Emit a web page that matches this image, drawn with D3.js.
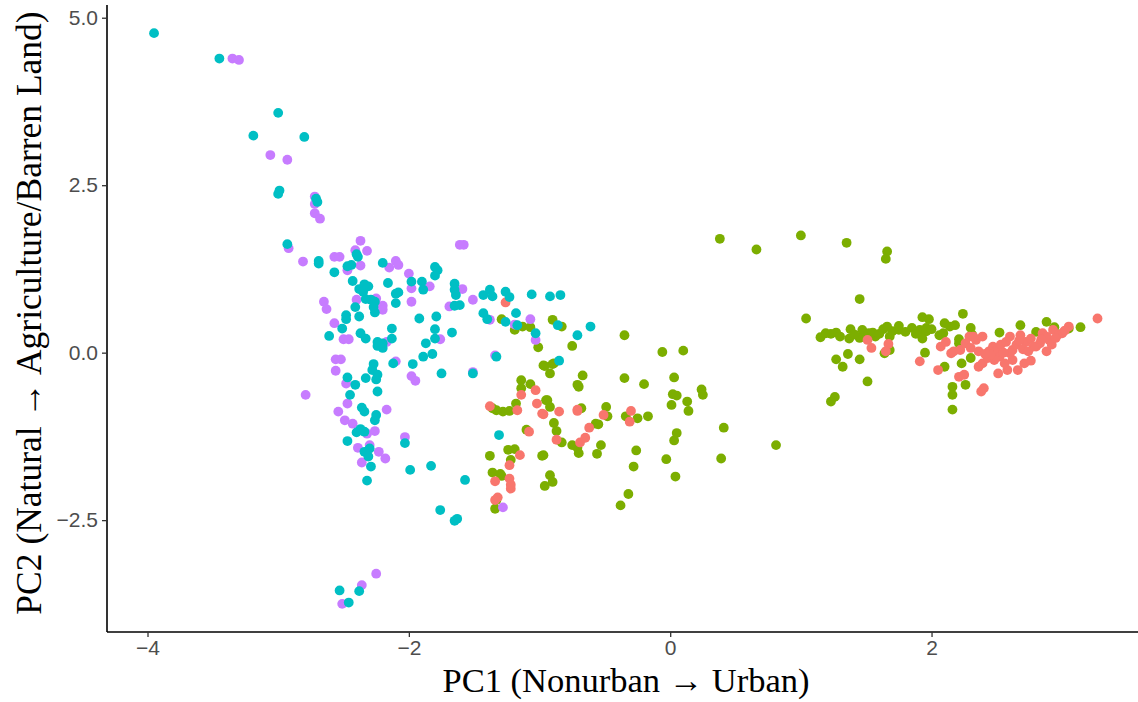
<!DOCTYPE html>
<html>
<head>
<meta charset="utf-8">
<script src="https://cdn.jsdelivr.net/npm/d3@7"></script>
<style>
  body { margin: 0; background: #fff; }
  svg { display: block; }
</style>
</head>
<body>
<svg id="chart" width="1138" height="702"></svg>
<script>
// PC scores per group, [PC1, PC2]
const groupA = [ // red
  [-1.26,0.75],[-1.14,-0.63],[-1.03,-0.56],[-1.02,-0.76],[-0.98,-0.91],[-1.38,-0.80],[-1.17,-0.86],
  [-0.85,-0.88],[-0.71,-0.85],[-0.71,-0.87],[-0.97,-0.92],[-1.08,-1.18],[-0.87,-1.30],[-0.69,-1.34],
  [-0.65,-1.27],[-0.62,-1.12],[-0.51,-0.93],[-0.30,-0.87],[-0.31,-1.03],[-1.23,-1.68],[-1.15,-1.53],
  [-1.34,-1.92],[-1.23,-1.88],[-1.22,-2.03],[-1.32,-2.16],[-1.34,-2.20],[-1.22,-1.97],
  [1.51,0.19],[1.54,0.07],[1.67,0.13],[1.65,0.02],[1.91,-0.13],[2.05,-0.26],[2.07,0.09],[2.11,0.16],
  [2.15,-0.01],[2.17,0.02],[2.22,0.04],[2.26,0.14],[2.29,0.24],[2.34,0.19],[2.39,0.24],[2.30,0.07],
  [2.21,-0.36],[2.25,-0.33],[2.36,-0.21],[2.39,-0.16],[2.43,-0.08],[2.38,-0.58],[2.40,-0.53],[2.47,0.09],
  [2.49,0.02],[2.52,-0.06],[2.51,-0.31],[2.58,-0.26],[2.66,-0.26],[2.71,-0.16],[2.76,-0.12],[2.53,0.12],
  [2.57,0.16],[2.60,0.24],[2.62,0.04],[2.65,0.12],[2.68,0.26],[2.72,0.16],[2.76,0.21],[2.80,0.09],
  [2.85,0.29],[2.88,0.02],[2.90,0.19],[2.93,0.34],[2.97,0.27],[3.00,0.29],[3.05,0.39],[2.88,0.24],
  [2.83,0.14],[2.78,0.09],[2.48,-0.11],[2.44,0.02],[2.62,-0.11],[2.60,-0.01],[2.32,0.24],[3.27,0.51],
  [2.70,0.05],[2.74,0.02],[2.55,0.00],[2.45,-0.03],[2.92,0.12],[2.95,0.22],[3.02,0.33],[2.84,0.20],
  [2.67,0.18],[2.36,0.02],[2.41,-0.02],[2.56,-0.16]
];
const groupB = [ // green
  [-1.29,0.50],[-1.19,0.34],[-1.13,0.39],[-1.07,0.38],[-1.01,0.08],[-0.90,0.49],[-0.83,0.39],[-0.75,0.10],
  [-0.97,-0.19],[-0.90,-0.17],[-0.92,-0.31],[-0.67,-0.34],[-0.70,-0.51],[-0.71,-0.48],[-1.14,-0.41],
  [-1.14,-0.53],[-1.07,-0.47],[-1.18,-0.76],[-0.94,-0.71],[-0.92,-0.81],[-1.36,-0.83],[-1.28,-0.88],
  [-1.23,-0.87],[-1.33,-0.86],[-0.68,-0.83],[-0.35,0.26],[-0.06,0.01],[0.10,0.03],[-0.96,-0.20],
  [-0.89,-0.16],[-0.35,-0.38],[-0.20,-0.47],[0.03,-0.37],[0.02,-0.62],[0.05,-0.64],[0.01,-0.78],
  [0.24,-0.55],[0.25,-0.63],[0.13,-0.73],[0.14,-0.87],[-0.49,-0.81],[-0.48,-0.95],[-0.55,-1.07],
  [-0.34,-0.95],[-0.25,-0.98],[-0.17,-0.95],[-0.89,-1.05],[-0.87,-1.17],[-0.83,-1.34],[-0.75,-1.38],
  [-0.70,-1.50],[-0.71,-1.42],[-0.56,-1.51],[-0.53,-1.38],[-0.57,-1.06],[-0.26,-1.46],[-0.28,-1.70],
  [0.05,-1.20],[0.03,-1.31],[-0.03,-1.59],[0.04,-1.85],[0.41,-1.12],[0.39,-1.58],[0.81,-1.38],
  [-0.32,-2.11],[-0.38,-2.28],[-0.97,-1.53],[-1.38,-1.54],[-1.24,-1.45],[-1.19,-1.44],[-1.22,-1.60],
  [-1.36,-1.79],[-1.30,-1.81],[-1.29,-1.84],[-0.92,-1.83],[-0.90,-1.93],[-0.96,-1.99],[-1.33,-2.20],
  [-1.34,-2.33],[-1.10,-1.15],[-0.98,-1.54],[-0.95,-0.71],
  [0.38,1.70],[0.66,1.54],[1.00,1.75],[1.35,1.64],[1.66,1.51],[1.65,1.40],[1.45,0.80],[1.04,0.51],
  [1.15,0.23],[1.23,0.28],[1.27,0.30],[1.38,0.35],[1.37,0.21],[1.27,-0.10],[1.32,-0.21],[1.36,-0.02],
  [1.45,-0.10],[1.51,-0.43],[1.23,-0.73],[1.26,-0.66],[1.47,0.34],[1.52,0.29],[1.63,0.35],[1.70,0.32],
  [1.68,0.24],[1.75,0.34],[1.80,0.31],[1.85,0.37],[1.91,0.34],[1.96,0.32],[1.57,0.24],[1.50,0.23],
  [1.45,0.22],[1.66,0.39],[1.75,0.40],[1.93,0.53],[1.98,0.50],[1.96,0.37],[2.00,0.35],[1.93,0.21],
  [1.95,0.00],[1.64,-0.01],[1.68,0.04],[2.10,0.44],[2.14,0.39],[2.18,0.41],[2.24,0.58],[2.09,0.29],
  [2.06,0.26],[2.30,0.37],[2.31,0.27],[2.21,0.20],[2.23,-0.16],[2.30,-0.08],[2.10,-0.21],[2.26,-0.48],
  [2.16,-0.51],[2.16,-0.63],[2.16,-0.85],[2.52,0.30],[2.68,0.41],[2.88,0.46],[2.94,0.38],[3.05,0.36],
  [3.14,0.38],[2.80,0.31],[2.21,0.14],[1.55,0.30],[1.60,0.28],[1.88,0.28],[1.41,0.27],[1.30,0.24],[1.19,0.29]
];
const groupC = [ // cyan
  [-3.95,4.77],[-3.45,4.39],[-3.00,3.58],[-3.19,3.24],[-2.80,3.22],[-2.99,2.42],[-3.00,2.37],[-2.71,2.30],
  [-2.70,2.25],[-2.93,1.62],[-2.69,1.37],[-2.69,1.33],[-2.40,1.47],[-2.39,1.43],[-2.57,1.20],[-2.47,1.29],
  [-2.44,1.31],[-2.20,1.34],[-1.80,1.28],[-1.78,1.23],[-1.80,1.15],[-1.98,1.06],[-1.90,1.06],[-1.89,0.94],
  [-2.43,1.07],[-2.34,1.02],[-2.31,0.99],[-2.38,0.95],[-2.35,0.91],[-2.16,1.04],[-2.10,0.88],[-2.08,0.90],
  [-2.10,0.74],[-2.33,0.80],[-2.29,0.79],[-2.26,0.76],[-2.27,0.68],[-2.26,0.60],[-2.41,0.68],[-2.48,0.56],
  [-2.48,0.50],[-2.38,0.54],[-2.51,0.36],[-2.61,0.25],[-2.37,0.29],[-2.33,0.21],[-2.13,0.36],[-2.13,0.21],
  [-2.24,0.16],[-2.20,0.14],[-2.24,0.10],[-2.20,0.07],[-1.92,0.51],[-1.79,0.54],[-1.80,0.35],[-1.80,0.21],
  [-1.67,0.30],[-1.87,0.14],[-1.89,-0.06],[-1.82,-0.02],[-1.97,-0.17],[-2.12,-0.16],[-2.27,-0.17],
  [-2.28,-0.26],[-2.24,-0.33],[-2.33,-0.38],[-2.25,-0.40],[-2.47,-0.37],[-2.41,-0.48],[-2.45,-0.63],
  [-1.75,-0.31],[-1.51,-0.31],[-2.24,-0.58],[-2.36,-0.82],[-2.34,-0.88],[-2.25,-0.93],[-2.26,-1.01],
  [-2.40,-1.19],[-2.37,-1.14],[-2.34,-1.18],[-2.47,-1.32],[-2.03,-1.35],[-2.34,-1.48],[-2.30,-1.43],
  [-2.31,-1.55],[-2.29,-1.70],[-2.32,-1.91],[-1.99,-1.75],[-1.83,-1.69],[-1.57,-1.90],[-1.31,-1.23],
  [-1.76,-2.35],[-1.65,-2.51],[-1.63,-2.48],[-2.38,-3.56],[-2.53,-3.55],[-2.46,-3.73],
  [-1.65,1.03],[-1.65,0.94],[-1.64,0.86],[-1.65,0.70],[-1.61,0.71],[-1.43,0.86],[-1.38,0.94],[-1.36,0.84],
  [-1.26,0.91],[-1.23,0.83],[-1.06,0.87],[-0.92,0.84],[-0.84,0.86],[-1.43,0.59],[-1.40,0.50],[-1.26,0.46],
  [-1.18,0.59],[-1.17,0.41],[-1.03,0.29],[-0.86,0.41],[-0.71,0.26],[-0.61,0.39],[-1.33,-0.06],[-0.85,-0.12]
];
const groupD = [ // purple
  [-3.35,4.39],[-3.30,4.37],[-3.06,2.95],[-2.93,2.88],[-2.72,2.33],[-2.72,2.22],[-2.72,2.08],[-2.68,2.00],
  [-2.92,1.56],[-2.37,1.67],[-2.41,1.53],[-2.32,1.52],[-1.61,1.61],[-1.58,1.61],[-2.81,1.36],[-2.57,1.43],
  [-2.53,1.43],[-2.47,1.23],[-2.37,1.30],[-2.10,1.37],[-2.08,1.31],[-2.15,1.27],[-2.00,1.18],[-1.98,0.96],
  [-1.84,0.99],[-2.25,0.81],[-2.20,0.70],[-2.20,0.64],[-2.40,0.79],[-1.98,0.76],[-2.65,0.76],[-2.63,0.65],
  [-2.57,0.44],[-2.50,0.20],[-2.46,0.20],[-2.17,0.16],[-1.76,0.20],[-2.10,-0.13],[-2.56,-0.10],
  [-2.52,-0.10],[-2.56,-0.27],[-2.48,-0.46],[-1.98,-0.35],[-1.95,-0.42],[-2.79,-0.63],[-2.47,-0.76],
  [-2.17,-0.85],[-2.54,-0.88],[-2.49,-1.01],[-2.43,-1.06],[-2.32,-1.21],[-2.26,-1.17],[-2.03,-1.26],
  [-2.39,-1.42],[-2.30,-1.38],[-2.23,-1.48],[-2.18,-1.58],[-2.36,-1.64],[-2.25,-3.30],[-2.36,-3.47],
  [-2.51,-3.75],[-1.59,0.95],[-1.69,0.69],[-1.51,0.79],[-1.38,0.49],[-1.19,0.42],[-1.07,0.50],[-1.03,0.19],
  [-1.34,-0.04],[-1.51,-0.29],[-1.28,-2.31]
];
const groups = [groupB, groupA, groupD, groupC];
const groupColors = ["#7CAE00", "#F8766D", "#C77CFF", "#00BFC4"];

const xTicks = [-4, -2, 0, 2];
const yTicks = [-2.5, 0, 2.5, 5];
const xTitle = "PC1 (Nonurban \u2192 Urban)";
const yTitle = "PC2 (Natural \u2192 Agriculture/Barren Land)";

const svg = d3.select("#chart");
const plotLeft = 107, plotRight = 1138, plotTop = 5, plotBottom = 632;

const x = d3.scaleLinear().domain([-4.31, 3.58]).range([plotLeft, plotRight]);
const y = d3.scaleLinear().domain([-4.17, 5.19]).range([plotBottom, plotTop]);

// points
groups.forEach((pts, i) => {
  svg.append("g")
    .selectAll("circle")
    .data(pts)
    .enter()
    .append("circle")
    .attr("cx", d => x(d[0]))
    .attr("cy", d => y(d[1]))
    .attr("r", 4.9)
    .attr("fill", groupColors[i]);
});

// axes
const xAxis = svg.append("g")
  .attr("transform", `translate(0,${plotBottom})`)
  .call(d3.axisBottom(x).tickValues(xTicks).tickSize(5).tickPadding(3).tickFormat(d3.format("d")));
const yAxis = svg.append("g")
  .attr("transform", `translate(${plotLeft},0)`)
  .call(d3.axisLeft(y).tickValues(yTicks).tickSize(5).tickPadding(4).tickFormat(d3.format(".1f")));

[xAxis, yAxis].forEach(ax => {
  ax.select(".domain").attr("stroke", "#000").attr("stroke-width", 1.6);
  ax.selectAll(".tick line").attr("stroke", "#333").attr("stroke-width", 1.3);
  ax.selectAll(".tick text")
    .attr("fill", "#4D4D4D")
    .attr("font-family", "'Liberation Sans', Arial, sans-serif")
    .attr("font-size", "21px");
});
// flat axis lines like ggplot, without the outer tick stubs
xAxis.select(".domain").attr("d", `M${plotLeft},0H${plotRight}`);
yAxis.select(".domain").attr("d", `M0,${plotTop}V${plotBottom}`);

// axis titles
svg.append("text")
  .attr("x", 626)
  .attr("y", 692)
  .attr("text-anchor", "middle")
  .attr("font-family", "'Liberation Serif', 'Times New Roman', serif")
  .attr("font-size", "34.5px")
  .attr("fill", "#000")
  .text(xTitle);

svg.append("text")
  .attr("transform", "translate(41,313) rotate(-90)")
  .attr("text-anchor", "middle")
  .attr("font-family", "'Liberation Serif', 'Times New Roman', serif")
  .attr("font-size", "35.5px")
  .attr("fill", "#000")
  .text(yTitle);
</script>
</body>
</html>
